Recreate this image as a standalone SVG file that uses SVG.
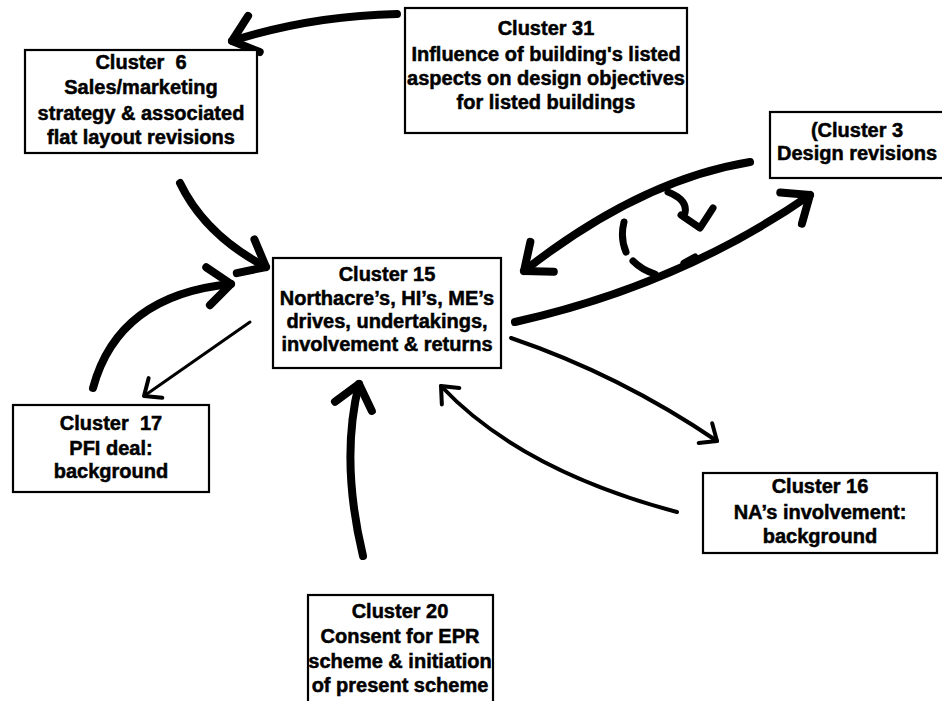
<svg xmlns="http://www.w3.org/2000/svg" width="942" height="701" viewBox="0 0 942 701">
  <style>
    .box { fill: #ffffff; stroke: #000000; stroke-width: 2.2; }
    .lbl { font-family: "Liberation Sans", Arial, sans-serif; font-size: 20px; font-weight: bold; fill: #000000; stroke: #000000; stroke-width: 0.5; text-anchor: middle; white-space: pre; }
    .thick { fill: none; stroke: #000000; stroke-width: 8; stroke-linecap: round; }
    .thin { fill: none; stroke: #000000; stroke-width: 4; stroke-linecap: round; }
    .slim { fill: none; stroke: #000000; stroke-width: 3; stroke-linecap: round; }
    .loop { fill: none; stroke: #000000; stroke-width: 7; stroke-linecap: round; stroke-linejoin: round; }
  </style>
  <defs>
    <marker id="headThick" markerUnits="userSpaceOnUse" orient="auto" refX="0" refY="0" markerWidth="1" markerHeight="1" overflow="visible">
      <path d="M-23,-19 L0,0 L-23,19" fill="none" stroke="#000000" stroke-width="8" stroke-linecap="round" stroke-linejoin="round"/>
    </marker>
    <marker id="headThin" markerUnits="userSpaceOnUse" orient="auto" refX="0" refY="0" markerWidth="1" markerHeight="1" overflow="visible">
      <path d="M-14,-12 L0,0 L-14,12" fill="none" stroke="#000000" stroke-width="4" stroke-linecap="round" stroke-linejoin="round"/>
    </marker>
  </defs>

  <rect width="942" height="701" fill="#ffffff"/>

  <g id="connectors">
    <!-- Cluster 31 to Cluster 6 -->
    <path class="thick" d="M397,14 Q310,16 232,41" marker-end="url(#headThick)"/>
    <!-- Cluster 6 to Cluster 15 -->
    <path class="thick" d="M180,183 Q205,235 266,267" marker-end="url(#headThick)"/>
    <!-- Cluster 17 to Cluster 15 -->
    <path class="thick" d="M93,388 Q118,295 231,284" marker-end="url(#headThick)"/>
    <!-- Cluster 15 to Cluster 17 -->
    <path class="slim" d="M250,322 L144,396" marker-end="url(#headThin)"/>
    <!-- Cluster 20 to Cluster 15 -->
    <path class="thick" d="M363,556 Q340,460 359,384" marker-end="url(#headThick)"/>
    <!-- Cluster 16 to Cluster 15 -->
    <path class="thin" d="M677,512 Q520,470 441,386" marker-end="url(#headThin)"/>
    <!-- Cluster 15 to Cluster 16 -->
    <path class="thin" d="M511,338 Q620,375 717,441" marker-end="url(#headThin)"/>
    <!-- Cluster 3 to Cluster 15 -->
    <path class="thick" d="M750,162 Q640,180 524,271" marker-end="url(#headThick)"/>
    <!-- Cluster 15 to Cluster 3 -->
    <path class="thick" d="M515,322 Q680,285 810,195" marker-end="url(#headThick)"/>
    <!-- dashed feedback loop between the two arcs -->
    <path class="loop" d="M668,192 Q688,200 685,213"/>
    <path class="loop" d="M681,215 L700,228 L713,208"/>
    <path class="loop" d="M624,222 Q620,238 626,252"/>
    <path class="loop" d="M633,261 Q642,270 655,274"/>
    <path class="loop" d="M684,263 L695,257"/>
  </g>

  <g id="cluster6">
    <rect class="box" x="25" y="50" width="232" height="103"/>
    <text class="lbl" x="141" y="69">Cluster  6</text>
    <text class="lbl" x="141" y="94">Sales/marketing</text>
    <text class="lbl" x="141" y="120">strategy &amp; associated</text>
    <text class="lbl" x="141" y="144">flat layout revisions</text>
  </g>

  <g id="cluster31">
    <rect class="box" x="405" y="8" width="282" height="125"/>
    <text class="lbl" x="546" y="35">Cluster 31</text>
    <text class="lbl" x="546" y="61">Influence of building's listed</text>
    <text class="lbl" x="546" y="85">aspects on design objectives</text>
    <text class="lbl" x="546" y="109">for listed buildings</text>
  </g>

  <g id="cluster3">
    <rect class="box" x="770" y="112" width="180" height="66"/>
    <text class="lbl" x="857" y="137">(Cluster 3</text>
    <text class="lbl" x="857" y="160">Design revisions</text>
  </g>

  <g id="cluster15">
    <rect class="box" x="273" y="258" width="228" height="110"/>
    <text class="lbl" x="387" y="281">Cluster 15</text>
    <text class="lbl" x="387" y="305">Northacre’s, HI’s, ME’s</text>
    <text class="lbl" x="387" y="328">drives, undertakings,</text>
    <text class="lbl" x="387" y="351">involvement &amp; returns</text>
  </g>

  <g id="cluster17">
    <rect class="box" x="13" y="405" width="196" height="87"/>
    <text class="lbl" x="111" y="430">Cluster  17</text>
    <text class="lbl" x="111" y="455">PFI deal:</text>
    <text class="lbl" x="111" y="478">background</text>
  </g>

  <g id="cluster16">
    <rect class="box" x="703" y="473" width="234" height="80"/>
    <text class="lbl" x="820" y="493">Cluster 16</text>
    <text class="lbl" x="820" y="519">NA’s involvement:</text>
    <text class="lbl" x="820" y="543">background</text>
  </g>

  <g id="cluster20">
    <rect class="box" x="308" y="595" width="185" height="112"/>
    <text class="lbl" x="400" y="618">Cluster 20</text>
    <text class="lbl" x="400" y="643">Consent for EPR</text>
    <text class="lbl" x="400" y="668">scheme &amp; initiation</text>
    <text class="lbl" x="400" y="692">of present scheme</text>
  </g>
</svg>
